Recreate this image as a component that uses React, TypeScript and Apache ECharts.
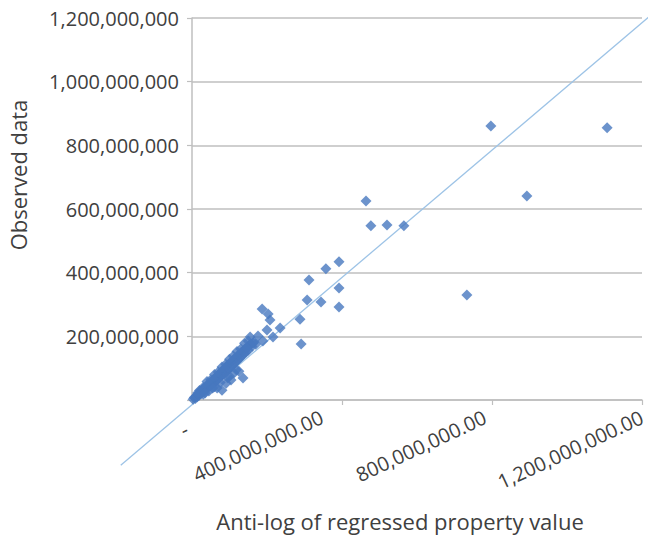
import React, { useEffect, useRef } from 'react';
import * as echarts from 'echarts';

// values are in millions
const UNIT = 1e6;

const xTicks = [0, 400, 800, 1200];
const xTickLabels = ['-', '400,000,000.00', '800,000,000.00', '1,200,000,000.00'];
const yTicks = [0, 200, 400, 600, 800, 1000, 1200];
const yTickLabels = ['', '200,000,000', '400,000,000', '600,000,000', '800,000,000', '1,000,000,000', '1,200,000,000'];

const xTitle = 'Anti-log of regressed property value';
const yTitle = 'Observed data';

// observed (x = regressed anti-log, y = observed), millions
const clusterPoints: [number, number][] = [
  [3, 2], [6, 8], [9, 5], [11, 12], [14, 10], [16, 18], [19, 15], [21, 24], [24, 20], [26, 30],
  [29, 26], [31, 36], [34, 30], [36, 41], [39, 35], [41, 47], [44, 40], [46, 52], [49, 45], [51, 58],
  [54, 50], [56, 63], [59, 55], [61, 69], [64, 60], [66, 74], [69, 65], [71, 80], [74, 70], [76, 86],
  [79, 76], [81, 92], [84, 82], [86, 98], [89, 88], [91, 104], [94, 92], [96, 110], [99, 98], [101, 116],
  [104, 104], [106, 121], [109, 110], [111, 127], [114, 116], [116, 132], [119, 122], [121, 138], [124, 128], [126, 143],
  [129, 133], [131, 149], [134, 140], [136, 154], [139, 146], [141, 160], [144, 150], [147, 166], [150, 156], [153, 172],
  [157, 176], [160, 168], [165, 182], [170, 175],
  [15, 22], [30, 40], [50, 64], [70, 88], [90, 112], [110, 138], [130, 160], [150, 185],
  [67, 38], [80, 31], [91, 53], [104, 63], [112, 85], [136, 69], [125, 90], [100, 75], [60, 42], [45, 28], [30, 18],
  [20, 30], [40, 58], [60, 80], [80, 104], [100, 128], [120, 152], [140, 178], [35, 22], [55, 38], [75, 55], [95, 70], [118, 95],
];

const upperPoints: [number, number][] = [
  [187, 286], [203, 270], [208, 251], [235, 226], [200, 220], [216, 198], [189, 185], [176, 201],
  [155, 198], [163, 179], [147, 163],
  [288, 254], [291, 176], [307, 314], [312, 377], [344, 308], [357, 412], [392, 434], [392, 352], [392, 292],
  [464, 625], [477, 547], [520, 550], [565, 547],
  [733, 330], [797, 861], [893, 641], [1107, 855],
];

// fitted reference line end points (x1, y1, x2, y2), millions
const fitLine: [number, number, number, number][] = [[-190, -205, 1250, 1235]];

const FONT = '"Open Sans", "DejaVu Sans", sans-serif';
const TEXT = '#404040';
const GRID = '#bfbfbf';

// per-label nudges (padding) for rotated x labels
const xLabelPad = [
  [17.6, 9.6, 0, 0],
  [0, 18.1, 17, 0],
  [0, 6.3, 6, 0],
  [0, 0, 0, 0],
];

export default function App() {
  const ref = useRef<HTMLDivElement>(null);
  useEffect(() => {
    document.body.style.margin = '0';
    if (!ref.current) return;
    const chart = echarts.init(ref.current, null, { renderer: 'svg' });
    const rich: Record<string, any> = {};
    xTickLabels.forEach((_, i) => {
      rich['s' + i] = {
        fontFamily: FONT,
        fontSize: 20,
        color: TEXT,
        padding: xLabelPad[i],
      };
    });
    const points = [...clusterPoints, ...upperPoints].map(([x, y]) => [x * UNIT, y * UNIT]);
    chart.setOption({
      animation: false,
      backgroundColor: '#ffffff',
      grid: { left: 192, right: 6, top: 18, bottom: 136, containLabel: false, outerBoundsMode: 'none' },
      xAxis: {
        type: 'value',
        min: 0,
        max: 1200 * UNIT,
        interval: 400 * UNIT,
        axisLine: { show: true, lineStyle: { color: GRID, width: 1.5 } },
        axisTick: { show: true, length: 5, lineStyle: { color: GRID, width: 1.2 } },
        splitLine: { show: false },
        axisLabel: {
          rotate: 25,
          margin: 16,
          fontFamily: FONT,
          fontSize: 20,
          color: TEXT,
          showMinLabel: true,
          showMaxLabel: true,
          hideOverlap: false,
          formatter: (v: number) => {
            const i = xTicks.indexOf(Math.round(v / UNIT));
            return i < 0 ? '' : `{s${i}|${xTickLabels[i]}}`;
          },
          rich,
        },
      },
      yAxis: {
        type: 'value',
        min: 0,
        max: 1200 * UNIT,
        interval: 200 * UNIT,
        axisLine: { show: true, lineStyle: { color: GRID, width: 1.5 } },
        axisTick: { show: true, length: 5, lineStyle: { color: GRID, width: 1.2 } },
        splitLine: { show: true, lineStyle: { color: GRID, width: 1.5 } },
        axisLabel: {
          margin: 13,
          fontFamily: FONT,
          fontSize: 20,
          color: TEXT,
          showMinLabel: true,
          showMaxLabel: true,
          formatter: (v: number) => {
            const i = yTicks.indexOf(Math.round(v / UNIT));
            return i < 0 ? '' : yTickLabels[i];
          },
        },
      },
      graphic: [
        {
          type: 'text',
          x: 18,
          y: 175,
          rotation: Math.PI / 2,
          style: { text: yTitle, fontFamily: FONT, fontSize: 22, fill: TEXT, align: 'center', verticalAlign: 'middle' },
        },
        {
          type: 'text',
          x: 400,
          y: 521,
          style: { text: xTitle, fontFamily: FONT, fontSize: 22, fill: TEXT, align: 'center', verticalAlign: 'middle' },
        },
      ],
      series: [
        {
          type: 'custom',
          data: fitLine.map(([x1, y1, x2, y2]) => [x1 * UNIT, y1 * UNIT, x2 * UNIT, y2 * UNIT]),
          clip: false,
          silent: true,
          z: 1,
          encode: { x: [0, 2], y: [1, 3] },
          renderItem: (_params: any, api: any) => {
            const p1 = api.coord([api.value(0), api.value(1)]);
            const p2 = api.coord([api.value(2), api.value(3)]);
            return {
              type: 'line',
              shape: { x1: p1[0], y1: p1[1], x2: p2[0], y2: p2[1] },
              style: { stroke: '#9dc3e6', lineWidth: 1.3 },
            };
          },
        },
        {
          type: 'scatter',
          data: points,
          symbol: 'diamond',
          symbolSize: 11,
          z: 2,
          itemStyle: { color: '#4778bf' },
        },
      ],
    });
    return () => chart.dispose();
  }, []);
  return <div ref={ref} style={{ width: 648, height: 536 }} />;
}
